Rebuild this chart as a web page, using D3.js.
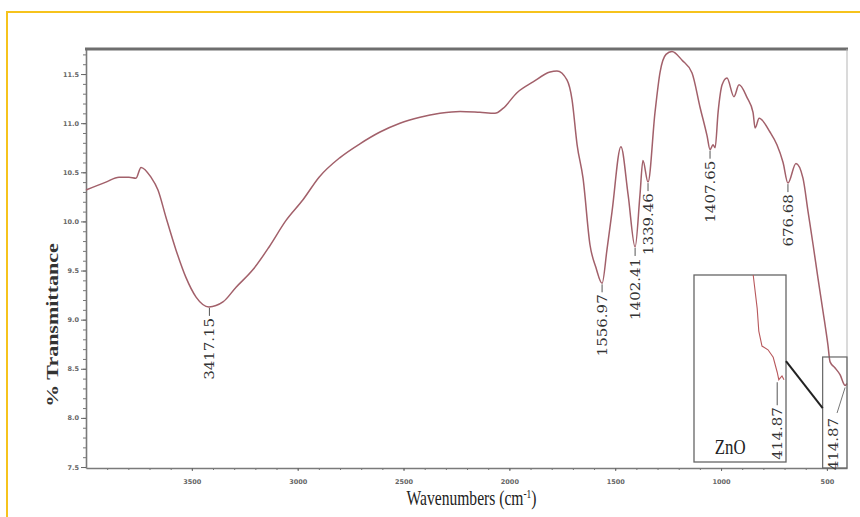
<!DOCTYPE html>
<html>
<head>
<meta charset="utf-8">
<script src="https://cdn.jsdelivr.net/npm/d3@7/dist/d3.min.js"></script>
<style>
body { margin: 0; background: #fff; }
svg { display: block; }
</style>
</head>
<body>
<div id="chart"></div>
<script>
// FTIR spectrum (wavenumber in cm-1, % transmittance)
var wave = [4000, 3906, 3844, 3797, 3764, 3740, 3693, 3660, 3622, 3575, 3528, 3480, 3419, 3353, 3291,
  3211, 3135, 3055, 2975, 2899, 2800, 2706, 2611, 2517, 2422, 2328, 2233, 2139, 2068, 2030, 1964,
  1888, 1808, 1775, 1728, 1704, 1680, 1652, 1619, 1591, 1562, 1539, 1515, 1473, 1439, 1406, 1383,
  1369, 1345, 1312, 1288, 1260, 1232, 1184, 1137, 1099, 1066, 1052, 1038, 1028, 1014, 995, 972,
  939, 915, 877, 849, 839, 820, 769, 736, 707, 684, 646, 613, 589, 565, 542, 518, 495, 485, 462,
  438, 414, 405];
var trans = [10.32, 10.40, 10.45, 10.45, 10.44, 10.55, 10.45, 10.32, 10.04, 9.71, 9.43, 9.23, 9.13, 9.18, 9.33,
  9.51, 9.74, 10.01, 10.22, 10.45, 10.65, 10.79, 10.91, 11.00, 11.06, 11.10, 11.12, 11.11, 11.10, 11.15, 11.31,
  11.42, 11.52, 11.53, 11.44, 11.24, 10.78, 10.44, 9.76, 9.53, 9.37, 9.71, 10.10, 10.76, 10.27, 9.74, 10.27,
  10.62, 10.40, 11.11, 11.52, 11.70, 11.73, 11.64, 11.51, 11.16, 10.87, 10.73, 10.78, 10.75, 11.11, 11.39, 11.46,
  11.27, 11.39, 11.26, 11.11, 10.95, 11.05, 10.91, 10.78, 10.60, 10.39, 10.59, 10.44, 10.10, 9.76, 9.42, 9.08, 8.74, 8.57, 8.51,
  8.44, 8.33, 8.35];

var xTicks = [3500, 3000, 2500, 2000, 1500, 1000, 500];
var yTicks = [7.5, 8.0, 8.5, 9.0, 9.5, 10.0, 10.5, 11.0, 11.5];

// peak annotations: text, where it sits, value at the dip
var peakText = ["3417.15", "1556.97", "1402.41", "1339.46", "1407.65", "676.68"];
var peakWave = [3417, 1562, 1406, 1345, 1052, 684];
var peakT = [9.13, 9.37, 9.74, 10.40, 10.73, 10.39];

// magnified trace shown in the ZnO inset
var insetWave = [446, 441, 439, 435, 427.5, 421, 416, 414, 410, 407.5];
var insetT = [8.75, 8.66, 8.60, 8.56, 8.55, 8.53, 8.49, 8.47, 8.48, 8.47];

var w_svg = 860, h_svg = 517;
var color_line = "#a2606a";

var svg = d3.select("#chart").append("svg")
  .attr("width", w_svg)
  .attr("height", h_svg);

// yellow frame of the pasted figure
svg.append("path")
  .attr("d", "M7,517V12H860")
  .attr("fill", "none")
  .attr("stroke", "#f6c31c")
  .attr("stroke-width", 2);

var x = d3.scaleLinear().domain([4000, 405]).range([86, 847]);
var y = d3.scaleLinear().domain([7.49, 11.755]).range([468, 49]);

// minor ticks
svg.append("g")
  .attr("transform", "translate(" + x(4000) + ",0)")
  .call(d3.axisLeft(y).tickValues(d3.range(75, 118).map(function(d){ return d / 10; }))
    .tickSize(3).tickFormat(""))
  .call(function(g){ g.select(".domain").remove(); })
  .selectAll("line").attr("stroke", "#777");
svg.append("g")
  .attr("transform", "translate(0," + y(7.49) + ")")
  .call(d3.axisBottom(x).tickValues(d3.range(500, 4000, 100)).tickSize(2).tickFormat(""))
  .call(function(g){ g.select(".domain").remove(); })
  .selectAll("line").attr("stroke", "#777");

var yAxis = svg.append("g")
  .attr("transform", "translate(" + x(4000) + ",0)")
  .call(d3.axisLeft(y).tickValues(yTicks).tickSize(5).tickSizeOuter(0).tickPadding(2)
    .tickFormat(d3.format(".1f")));
var xAxis = svg.append("g")
  .attr("transform", "translate(0," + y(7.49) + ")")
  .call(d3.axisBottom(x).tickValues(xTicks).tickSize(3).tickSizeOuter(0).tickPadding(8)
    .tickFormat(d3.format("d")));

[yAxis, xAxis].forEach(function(g) {
  g.select(".domain").attr("stroke", "#7a7a7a").attr("stroke-width", 1.6);
  g.selectAll(".tick line").attr("stroke", "#666");
  g.selectAll(".tick text")
    .attr("fill", "#666")
    .style("font-family", "DejaVu Sans")
    .style("font-size", "6.5px")
    .style("font-weight", "bold");
});

// frame of plot: heavy top, light right
svg.append("line")
  .attr("x1", x(4000) - 1).attr("x2", x(405) + 1)
  .attr("y1", y(11.755)).attr("y2", y(11.755))
  .attr("stroke", "#6e6e6e").attr("stroke-width", 3);
svg.append("line")
  .attr("x1", x(405)).attr("x2", x(405))
  .attr("y1", y(11.755)).attr("y2", y(7.49))
  .attr("stroke", "#b5b5b5").attr("stroke-width", 1);

var mydata = wave.map(function(d, i) { return [d, trans[i]]; });

var line = d3.line()
  .x(function(d) { return x(d[0]); })
  .y(function(d) { return y(d[1]); })
  .curve(d3.curveMonotoneX);

svg.append("path")
  .datum(mydata)
  .attr("d", line)
  .attr("fill", "none")
  .attr("stroke", color_line)
  .attr("stroke-width", 1.5);

// peak labels
var labelFont = "DejaVu Serif";
peakText.forEach(function(t, i) {
  var cx = x(peakWave[i]), cy = y(peakT[i]);
  svg.append("line")
    .attr("x1", cx).attr("x2", cx)
    .attr("y1", cy + 1).attr("y2", cy + 9)
    .attr("stroke", "#555").attr("stroke-width", 1);
  svg.append("text")
    .attr("transform", "translate(" + cx + "," + (cy + 11) + ") rotate(-90) scale(1,0.85)")
    .attr("text-anchor", "end")
    .attr("dominant-baseline", "central")
    .style("font-family", labelFont)
    .style("font-size", "15px")
    .attr("fill", "#333")
    .text(t);
});

// small box round the end of the spectrum
svg.append("rect")
  .attr("x", x(520)).attr("y", y(8.62))
  .attr("width", x(405) - x(520)).attr("height", y(7.49) - y(8.62))
  .attr("fill", "none").attr("stroke", "#666").attr("stroke-width", 1.2);
svg.append("line")
  .attr("x1", x(414)).attr("y1", y(8.33) + 2)
  .attr("x2", x(452)).attr("y2", y(8.05))
  .attr("stroke", "#777").attr("stroke-width", 1);
svg.append("text")
  .attr("transform", "translate(" + x(471) + "," + y(8.0) + ") rotate(-90) scale(1,0.85)")
  .attr("text-anchor", "end")
  .attr("dominant-baseline", "central")
  .style("font-family", labelFont)
  .style("font-size", "15px")
  .attr("fill", "#333")
  .text("414.87");

// ZnO inset
var ix = d3.scaleLinear().domain([520, 405]).range([694, 786]);
var iy = d3.scaleLinear().domain([8.25, 8.75]).range([462, 275]);
svg.append("rect")
  .attr("x", ix(520)).attr("y", iy(8.75))
  .attr("width", ix(405) - ix(520)).attr("height", iy(8.25) - iy(8.75))
  .attr("fill", "#fff").attr("stroke", "#666").attr("stroke-width", 1.3);
svg.append("path")
  .datum(insetWave.map(function(d, i) { return [d, insetT[i]]; }))
  .attr("d", d3.line().x(function(d){ return ix(d[0]); }).y(function(d){ return iy(d[1]); }))
  .attr("fill", "none")
  .attr("stroke", "#b8585c")
  .attr("stroke-width", 1.1);
svg.append("line")
  .attr("x1", ix(416)).attr("x2", ix(416))
  .attr("y1", iy(8.49) + 10).attr("y2", iy(8.49) + 33)
  .attr("stroke", "#555").attr("stroke-width", 1);
svg.append("text")
  .attr("transform", "translate(" + ix(416) + "," + (iy(8.49) + 35) + ") rotate(-90) scale(1,0.85)")
  .attr("text-anchor", "end")
  .attr("dominant-baseline", "central")
  .style("font-family", labelFont)
  .style("font-size", "15px")
  .attr("fill", "#333")
  .text("414.87");
svg.append("text")
  .attr("transform", "translate(" + ix(494) + "," + (iy(8.25) - 8) + ") scale(0.8,1)")
  .style("font-family", "Liberation Serif")
  .style("font-size", "21px")
  .attr("fill", "#222")
  .text("ZnO");
// connector from inset to small box
svg.append("line")
  .attr("x1", ix(405)).attr("y1", iy(8.52))
  .attr("x2", x(520)).attr("y2", y(8.10))
  .attr("stroke", "#222").attr("stroke-width", 2);

// axis titles
svg.append("text")
  .attr("transform", "translate(" + ((x(4000) + x(405)) / 2 + 5) + ",505) scale(0.78,1)")
  .attr("text-anchor", "middle")
  .style("font-family", "Liberation Serif")
  .style("font-size", "20px")
  .attr("fill", "#222")
  .html("Wavenumbers (cm<tspan dy='-7' font-size='12'>-1</tspan><tspan dy='7'>)</tspan>");

svg.append("text")
  .attr("transform", "translate(52,325) rotate(-90) scale(1,0.8)")
  .attr("text-anchor", "middle")
  .attr("dominant-baseline", "central")
  .style("font-family", "Liberation Serif")
  .style("font-size", "22px")
  .style("font-weight", "bold")
  .attr("fill", "#333")
  .text("% Transmittance");
</script>
</body>
</html>
